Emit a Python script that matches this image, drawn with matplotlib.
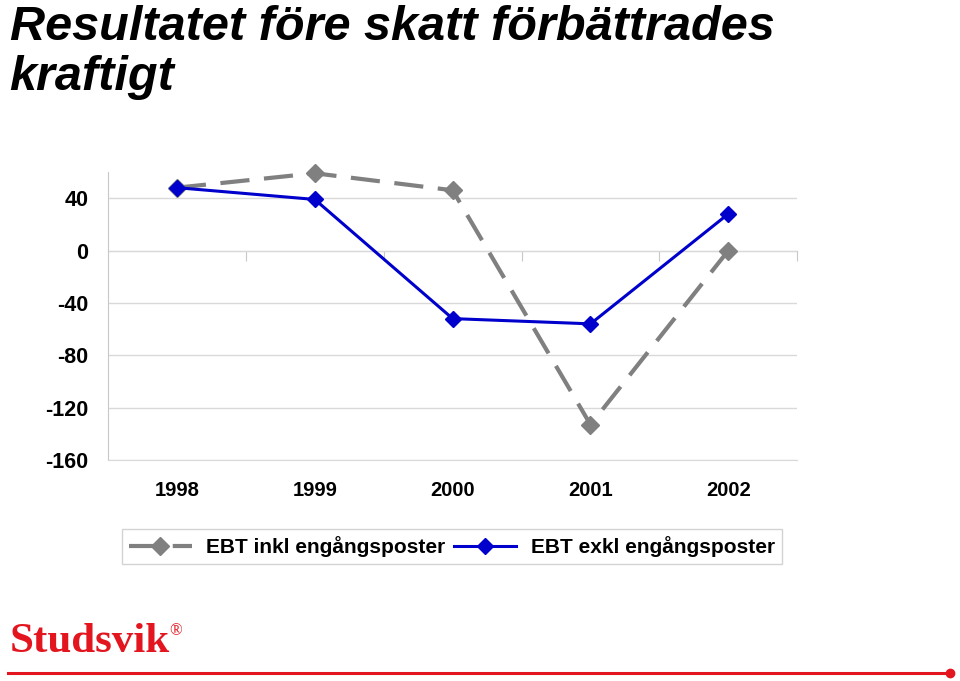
import matplotlib.pyplot as plt
from matplotlib.lines import Line2D

years = ['1998', '1999', '2000', '2001', '2002']
ebt_inkl = [48, 59, 46, -133, 0]
ebt_exkl = [48, 39, -52, -56, 28]
yticks = [40, 0, -40, -80, -120, -160]

title = 'Resultatet före skatt förbättrades\nkraftigt'
plt.rcParams['font.family'] = ['Liberation Sans', 'DejaVu Sans']
serif = ['Liberation Serif', 'DejaVu Serif']

fig = plt.figure(figsize=(9.6, 6.81), dpi=100)
ax = fig.add_axes([0.1125, 0.3245, 0.718, 0.423])

x = range(len(years))
ax.plot(x, ebt_inkl, color='#808080', lw=3, dashes=(7, 3.5), marker='D', ms=9,
        label='EBT inkl engångsposter', zorder=3, clip_on=False)
ax.plot(x, ebt_exkl, color='#0000cc', lw=2.2, marker='D', ms=8,
        label='EBT exkl engångsposter', zorder=4, clip_on=False)

ax.set_xlim(-0.5, 4.5)
ax.set_ylim(-160, 60)
ax.set_yticks(yticks)
ax.set_yticklabels([str(v) for v in yticks], fontsize=15.5, fontweight='bold')
ax.set_xticks(list(x))
ax.set_xticklabels(years, fontsize=14.5, fontweight='bold')
ax.tick_params(axis='both', length=0, pad=14)
ax.tick_params(axis='x', pad=15)
ax.grid(axis='y', color='#d9d9d9', lw=1)
ax.set_axisbelow(True)
for s in ['top', 'right']:
    ax.spines[s].set_visible(False)
ax.spines['bottom'].set_color('#d9d9d9')
ax.spines['left'].set_color('#c8c8c8')

# category axis crossing at zero, with boundary ticks
sec = ax.secondary_xaxis(160 / 220)
sec.set_xticks([0.5, 1.5, 2.5, 3.5, 4.5])
sec.set_xticklabels([])
sec.tick_params(direction='in', length=7, color='#c8c8c8')
sec.spines['bottom'].set_color('#c8c8c8')
sec.spines['top'].set_color('#c8c8c8')

leg = fig.legend(loc='center', bbox_to_anchor=(0.471, 0.1975), ncol=2,
                 prop={'weight': 'bold', 'size': 15}, fancybox=False,
                 edgecolor='#c8c8c8', handlelength=3.0, columnspacing=0.4,
                 handletextpad=0.7, borderpad=0.35)
leg.get_frame().set_linewidth(1)

fig.text(0.010, 0.993, title, fontsize=35, fontweight='bold', style='italic',
         va='top', ha='left', linespacing=1.15)

fig.text(0.01, 0.030, 'Studsvik', fontsize=31, fontweight='bold',
         family=serif, color='#e3151f', va='bottom', ha='left')
fig.text(0.176, 0.062, '®', fontsize=12, family=serif,
         color='#e3151f', va='bottom', ha='left')
fig.add_artist(Line2D([0.008, 0.99], [0.012, 0.012], color='#e3151f', lw=2.2))
fig.add_artist(Line2D([0.99], [0.012], color='#e3151f', marker='o', ms=6))

fig.savefig('out.png', dpi=100)
